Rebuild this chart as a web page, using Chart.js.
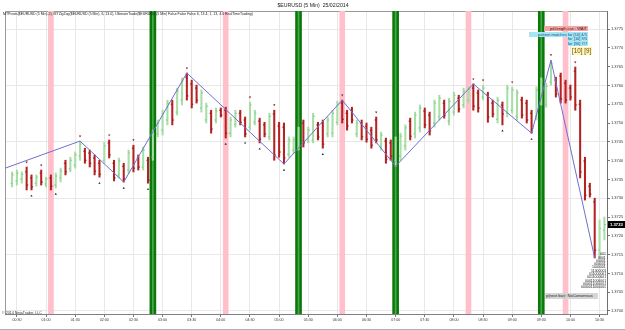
<!DOCTYPE html>
<html>
<head>
<meta charset="utf-8">
<title>$EURUSD (5 Min) 25/02/2014</title>
<script src="https://cdn.jsdelivr.net/npm/chart.js@4.4.1/dist/chart.umd.min.js"></script>
<style>
html,body{margin:0;padding:0;background:#ffffff;overflow:hidden;}
#wrap{position:relative;width:625px;height:330px;overflow:hidden;background:#fff;}
#c{position:absolute;left:0;top:0;}
.ann{position:absolute;line-height:1;white-space:nowrap;transform-origin:0 0;font-family:"Liberation Sans",Arial,sans-serif;}
.box{position:absolute;}
</style>
</head>
<body>
<div id="wrap"><canvas id="c" width="625" height="330"></canvas></div>
<script>
// ---------------- DATA ----------------
const barTimes = [
"00:25","00:30","00:35","00:40","00:45","00:50","00:55","01:00","01:05","01:10",
"01:15","01:20","01:25","01:30","01:35","01:40","01:45","01:50","01:55","02:00",
"02:05","02:10","02:15","02:20","02:25","02:30","02:35","02:40","02:45","02:50",
"02:55","03:00","03:05","03:10","03:15","03:20","03:25","03:30","03:35","03:40",
"03:45","03:50","03:55","04:00","04:05","04:10","04:15","04:20","04:25","04:30",
"04:35","04:40","04:45","04:50","04:55","05:00","05:05","05:10","05:15","05:20",
"05:25","05:30","05:35","05:40","05:45","05:50","05:55","06:00","06:05","06:10",
"06:15","06:20","06:25","06:30","06:35","06:40","06:45","06:50","06:55","07:00",
"07:05","07:10","07:15","07:20","07:25","07:30","07:35","07:40","07:45","07:50",
"07:55","08:00","08:05","08:10","08:15","08:20","08:25","08:30","08:35","08:40",
"08:45","08:50","08:55","09:00","09:05","09:10","09:15","09:20","09:25","09:30",
"09:35","09:40","09:45","09:50","09:55","10:00","10:05","10:10","10:15","10:20",
"10:25","10:30","10:35"];

const opens = [
1.37340,1.37346,1.37351,1.37370,1.37354,1.37340,1.37367,1.37338,1.37354,1.37335,
1.37354,1.37393,1.37378,1.37388,1.37412,1.37425,1.37420,1.37407,1.37393,1.37401,
1.37447,1.37393,1.37362,1.37385,1.37375,1.37433,1.37407,1.37383,1.37401,1.37409,
1.37471,1.37481,1.37508,1.37550,1.37529,1.37561,1.37622,1.37604,1.37593,1.37540,
1.37508,1.37526,1.37508,1.37534,1.37534,1.37473,1.37497,1.37526,1.37508,1.37489,
1.37502,1.37505,1.37495,1.37463,1.37524,1.37492,1.37489,1.37417,1.37428,1.37436,
1.37500,1.37455,1.37455,1.37495,1.37500,1.37471,1.37473,1.37502,1.37553,1.37526,
1.37534,1.37471,1.37500,1.37492,1.37481,1.37508,1.37436,1.37452,1.37447,1.37401,
1.37412,1.37439,1.37505,1.37471,1.37487,1.37532,1.37521,1.37500,1.37516,1.37553,
1.37505,1.37529,1.37566,1.37548,1.37561,1.37593,1.37580,1.37569,1.37574,1.37553,
1.37510,1.37548,1.37526,1.37534,1.37518,1.37561,1.37553,1.37526,1.37518,1.37556,
1.37550,1.37609,1.37614,1.37625,1.37606,1.37593,1.37638,1.37550,1.37399,1.37332,
1.37290,1.37162,1.37215];

const highs = [
1.37370,1.37375,1.37370,1.37383,1.37362,1.37362,1.37375,1.37356,1.37362,1.37367,
1.37380,1.37401,1.37409,1.37423,1.37452,1.37433,1.37428,1.37415,1.37401,1.37449,
1.37455,1.37401,1.37407,1.37393,1.37428,1.37441,1.37415,1.37436,1.37409,1.37481,
1.37508,1.37534,1.37561,1.37561,1.37593,1.37620,1.37633,1.37614,1.37601,1.37588,
1.37553,1.37534,1.37540,1.37540,1.37542,1.37516,1.37534,1.37534,1.37516,1.37556,
1.37534,1.37513,1.37502,1.37526,1.37534,1.37502,1.37500,1.37463,1.37463,1.37489,
1.37508,1.37489,1.37526,1.37502,1.37508,1.37516,1.37534,1.37558,1.37561,1.37534,
1.37542,1.37508,1.37508,1.37500,1.37489,1.37516,1.37476,1.37460,1.37455,1.37463,
1.37473,1.37495,1.37513,1.37529,1.37548,1.37540,1.37529,1.37561,1.37574,1.37561,
1.37566,1.37582,1.37574,1.37593,1.37598,1.37604,1.37588,1.37601,1.37582,1.37561,
1.37569,1.37556,1.37601,1.37596,1.37588,1.37569,1.37561,1.37534,1.37596,1.37620,
1.37606,1.37667,1.37622,1.37633,1.37614,1.37601,1.37649,1.37561,1.37409,1.37340,
1.37300,1.37242,1.37250];

const lows = [
1.37330,1.37335,1.37340,1.37322,1.37322,1.37332,1.37335,1.37330,1.37322,1.37327,
1.37343,1.37362,1.37370,1.37380,1.37401,1.37393,1.37383,1.37362,1.37356,1.37393,
1.37407,1.37346,1.37354,1.37343,1.37367,1.37370,1.37375,1.37375,1.37340,1.37401,
1.37463,1.37468,1.37495,1.37495,1.37521,1.37548,1.37561,1.37540,1.37553,1.37529,
1.37500,1.37473,1.37500,1.37516,1.37460,1.37463,1.37489,1.37495,1.37463,1.37481,
1.37495,1.37447,1.37463,1.37455,1.37401,1.37409,1.37391,1.37409,1.37420,1.37428,
1.37436,1.37447,1.37447,1.37455,1.37433,1.37463,1.37463,1.37495,1.37500,1.37481,
1.37500,1.37463,1.37455,1.37449,1.37433,1.37447,1.37428,1.37393,1.37401,1.37385,
1.37401,1.37428,1.37455,1.37460,1.37476,1.37487,1.37468,1.37489,1.37508,1.37513,
1.37495,1.37521,1.37529,1.37540,1.37553,1.37534,1.37529,1.37561,1.37502,1.37516,
1.37500,1.37495,1.37516,1.37526,1.37508,1.37513,1.37500,1.37473,1.37508,1.37548,
1.37542,1.37601,1.37569,1.37553,1.37553,1.37561,1.37534,1.37354,1.37295,1.37303,
1.37141,1.37141,1.37189];

const closes = [
1.37362,1.37367,1.37364,1.37335,1.37330,1.37356,1.37343,1.37351,1.37332,1.37359,
1.37372,1.37370,1.37401,1.37415,1.37444,1.37401,1.37393,1.37372,1.37364,1.37439,
1.37415,1.37354,1.37399,1.37351,1.37420,1.37380,1.37383,1.37428,1.37348,1.37471,
1.37500,1.37526,1.37553,1.37508,1.37585,1.37612,1.37572,1.37550,1.37561,1.37580,
1.37545,1.37484,1.37532,1.37521,1.37473,1.37508,1.37526,1.37502,1.37471,1.37548,
1.37526,1.37457,1.37471,1.37518,1.37415,1.37423,1.37407,1.37455,1.37455,1.37481,
1.37447,1.37481,1.37518,1.37463,1.37444,1.37508,1.37526,1.37550,1.37510,1.37492,
1.37508,1.37500,1.37463,1.37457,1.37441,1.37455,1.37468,1.37404,1.37412,1.37455,
1.37465,1.37487,1.37465,1.37521,1.37540,1.37495,1.37479,1.37553,1.37566,1.37521,
1.37558,1.37574,1.37537,1.37585,1.37590,1.37545,1.37540,1.37593,1.37516,1.37524,
1.37561,1.37524,1.37593,1.37588,1.37580,1.37521,1.37508,1.37484,1.37588,1.37612,
1.37598,1.37659,1.37577,1.37564,1.37561,1.37569,1.37548,1.37370,1.37308,1.37311,
1.37162,1.37220,1.37230];

const zigzagTimes  = ["00:18","01:35","02:20","03:25","05:05","06:05","07:00","08:20","09:20","09:40","10:25"];
const zigzagPrices = [1.37380,1.37452,1.37343,1.37633,1.37391,1.37561,1.37385,1.37604,1.37473,1.37667,1.37141];

const upMarkTimes  = ["00:40","00:55","01:35","02:05","02:30","03:25","04:30","04:55","06:05","06:40","08:20","08:30","09:00","09:40","10:05"];
const upMarkPrices = [1.37396,1.37388,1.37465,1.37468,1.37455,1.37646,1.37569,1.37548,1.37574,1.37529,1.37617,1.37614,1.37609,1.37681,1.37662];
const downMarkTimes  = ["00:45","01:10","01:55","02:20","02:45","04:05","04:25","04:40","05:05","05:45","08:50","09:20"];
const downMarkPrices = [1.37306,1.37311,1.37340,1.37327,1.37324,1.37444,1.37447,1.37431,1.37375,1.37417,1.37479,1.37457];

const pinkBandTimes  = ["01:05","04:05","06:05","08:15","09:55"];
const greenBandTimes = ["02:50","05:20","07:00","09:30"];

const xTickLabels = ["00:30","01:00","01:30","02:00","02:30","03:00","03:30","04:00","04:30","05:00",
"05:30","06:00","06:30","07:00","07:30","08:00","08:30","09:00","09:30","10:00","10:30"];
const yTickLabels = ["1.3700","1.3705","1.3710","1.3715","1.3720","1.3725","1.3730","1.3735",
"1.3740","1.3745","1.3750","1.3755","1.3760","1.3765","1.3770","1.3775"];

const binaryLines = ["001","0001","00001","000001","1000001","11000001","011000001",
"0011000001","00011000001","000011000001","0000011000001"];

// ---------------- SETUP ----------------
const X_MIN = 17.72, X_MAX = 637.67;
const Y_MIN = 1.36992, Y_MAX = 1.37798;
const toMin = s => { const p = s.split(':').map(Number); return p[0] * 60 + p[1]; };
const T = barTimes.map(toMin);
const xTickVals = xTickLabels.map(toMin);
const yTickVals = yTickLabels.map(Number);
const isUp = i => closes[i] >= opens[i];
const RED = '#b52222', RED_D = '#8a1515', GRN = '#a6dea6', GRN_D = '#82c882';
const FONT = '"Liberation Sans", Arial, sans-serif';
Chart.defaults.font.family = FONT;

const frame = {
  id: 'frame',
  beforeDatasetsDraw(chart) {
    const {ctx, chartArea: a} = chart;
    ctx.save();
    ctx.strokeStyle = '#9a9a9a'; ctx.lineWidth = 1;
    ctx.beginPath();
    ctx.moveTo(a.left + 0.5, a.bottom); ctx.lineTo(a.left + 0.5, a.top + 0.5); ctx.lineTo(a.right, a.top + 0.5);
    ctx.stroke();
    ctx.restore();
  }
};
const priceTag = {
  id: 'priceTag',
  afterDraw(chart) {
    const {ctx, chartArea: a, scales: {y}} = chart;
    const v = closes[closes.length - 1];
    const py = y.getPixelForValue(v);
    ctx.save();
    ctx.fillStyle = '#000';
    ctx.fillRect(a.right + 1, py - 3.5, 17, 7);
    ctx.fillStyle = '#fff';
    ctx.font = 'bold 4.2px ' + FONT;
    ctx.textBaseline = 'middle';
    ctx.fillText(v.toFixed(4), a.right + 3, py + 0.3);
    ctx.restore();
  }
};

const bandData = arr => arr.map(toMin).map(t => ({x: t, y: [Y_MIN, Y_MAX]}));

new Chart(document.getElementById('c'), {
  type: 'scatter',
  data: {
    datasets: [
      { type: 'line', label: 'MTZigZag', order: 1,
        data: zigzagTimes.map((t, i) => ({x: toMin(t), y: zigzagPrices[i]})),
        borderColor: '#6f6fcf', borderWidth: 1, pointRadius: 0, tension: 0, fill: false },
      { type: 'scatter', label: 'swing high', order: 2,
        data: upMarkTimes.map((t, i) => ({x: toMin(t), y: upMarkPrices[i]})),
        pointStyle: 'triangle', rotation: 180, pointRadius: 1.3, backgroundColor: '#8b1515', borderColor: '#8b1515', borderWidth: 0 },
      { type: 'scatter', label: 'swing low', order: 2,
        data: downMarkTimes.map((t, i) => ({x: toMin(t), y: downMarkPrices[i]})),
        pointStyle: 'triangle', pointRadius: 1.3, backgroundColor: '#202020', borderColor: '#202020', borderWidth: 0 },
      { type: 'scatter', label: 'open', order: 3,
        data: T.map((t, i) => ({x: t - 0.8, y: opens[i]})),
        pointStyle: 'line', pointRadius: 0.8, borderWidth: 1,
        borderColor: T.map((t, i) => isUp(i) ? GRN_D : RED_D) },
      { type: 'scatter', label: 'close', order: 3,
        data: T.map((t, i) => ({x: t + 0.8, y: closes[i]})),
        pointStyle: 'line', pointRadius: 0.8, borderWidth: 1,
        borderColor: T.map((t, i) => isUp(i) ? GRN_D : RED_D) },
      { type: 'bar', label: 'range', order: 4, grouped: false,
        data: T.map((t, i) => ({x: t, y: [lows[i], highs[i]]})),
        backgroundColor: T.map((t, i) => isUp(i) ? GRN : RED),
        barThickness: 1.4, maxBarThickness: 1.4, borderWidth: 0 },
      { type: 'bar', label: 'green stripe', xAxisID: 'xb', order: 8, grouped: false,
        data: bandData(greenBandTimes), backgroundColor: '#4aa84a',
        barThickness: 1, maxBarThickness: 1, borderWidth: 0 },
      { type: 'bar', label: 'green band', xAxisID: 'xb', order: 9, grouped: false,
        data: bandData(greenBandTimes), backgroundColor: '#0a780a',
        barThickness: 6, maxBarThickness: 6, borderWidth: 0 },
      { type: 'bar', label: 'pink band', xAxisID: 'xb', order: 10, grouped: false,
        data: bandData(pinkBandTimes), backgroundColor: '#ffc0cb',
        barThickness: 5, maxBarThickness: 5, borderWidth: 0 }
    ]
  },
  options: {
    responsive: false, animation: false, devicePixelRatio: 1, events: [],
    layout: {padding: {left: 1, right: 0, top: 0, bottom: 0}},
    plugins: {
      legend: {display: false}, tooltip: {enabled: false},
      title: {display: true, text: '$EURUSD (5 Min)  25/02/2014', color: '#222',
        font: {family: FONT, size: 5.2, weight: 'normal'}, padding: {top: 2, bottom: 2.76}}
    },
    scales: {
      x: { type: 'linear', position: 'bottom', min: X_MIN, max: X_MAX, offset: false,
        grid: {color: '#e8e8e8', lineWidth: 1, offset: false, drawTicks: true, tickLength: 3, tickColor: '#777'},
        border: {color: '#808080', width: 1},
        ticks: {font: {family: FONT, size: 3.6}, color: '#333', maxRotation: 0, minRotation: 0, autoSkip: false, padding: 0.5,
          callback: v => { const k = xTickVals.indexOf(v); return k >= 0 ? xTickLabels[k] : ''; }},
        afterBuildTicks: s => { s.ticks = xTickVals.map(v => ({value: v})); },
        afterFit: s => { s.height = 16; } },
      xb: { type: 'linear', display: false, min: X_MIN, max: X_MAX, offset: false },
      y: { type: 'linear', position: 'right', min: Y_MIN, max: Y_MAX,
        grid: {color: c => (c.index % 3 === 0 ? '#e8e8e8' : 'rgba(0,0,0,0)'), drawTicks: true, tickLength: 3, tickColor: '#777'},
        border: {color: '#707070', width: 1},
        ticks: {font: {family: FONT, size: 4}, color: '#333', padding: 1,
          callback: v => { const k = yTickVals.findIndex(u => Math.abs(u - v) < 1e-9); return k >= 0 ? yTickLabels[k] : ''; }},
        afterBuildTicks: s => { s.ticks = yTickVals.map(v => ({value: v})); },
        afterFit: s => { s.width = 18; } }
    }
  },
  plugins: [frame, priceTag]
});

// ---------------- ANNOTATION TEXTS ----------------
const wrap = document.getElementById('wrap');
function box(x0, y0, x1, y1, color) {
  const d = document.createElement('div');
  d.className = 'box';
  d.style.left = x0 + 'px'; d.style.top = y0 + 'px';
  d.style.width = (x1 - x0) + 'px'; d.style.height = (y1 - y0) + 'px';
  d.style.background = color;
  wrap.appendChild(d);
}
function text(txt, o) {
  const el = document.createElement('div');
  el.className = 'ann';
  el.textContent = txt;
  el.style.fontSize = '20px';
  el.style.color = o.color || '#222';
  wrap.appendChild(el);
  const w = el.offsetWidth;
  const s = o.w ? o.w / w : o.size / 20;
  const left = o.align === 'right' ? o.x - w * s : o.x;
  el.style.left = left + 'px';
  el.style.top = (o.cy - 10 * s) + 'px';
  el.style.transform = 'scale(' + s + ')';
}

text('MTPivots($EURUSD (5 Min),2), MTZigZag($EURUSD (5 Min), 6, 13.0), UltimateTrade($EURUSD (5 Min) False False False 6, 13.4, 1, 13, 4.0 RealTimeTrading)',
  {x: 3, cy: 13.5, w: 250, color: '#222'});
text('\u00a9 2014 NinjaTrader, LLC', {x: 2, cy: 312.3, size: 3.6, color: '#333'});

box(544, 26, 588, 31, '#f3a5a5');
text('pd.length cas : WAIT', {x: 587, cy: 28.6, size: 4, align: 'right', color: '#4a1010'});
box(529, 32, 588, 37, '#a6e6f0');
box(568, 37, 588, 46, '#a6e6f0');
text('pattern matches for [10] 4/5', {x: 587, cy: 34.6, size: 4, align: 'right', color: '#1d4f9a'});
text('for [10] 9/5', {x: 587, cy: 39.2, size: 4, align: 'right', color: '#1d4f9a'});
text('for [90] 7/7', {x: 587, cy: 43.6, size: 4, align: 'right', color: '#1d4f9a'});
box(572, 47, 592, 55, '#fff5b5');
text('[10] [9]', {x: 591, cy: 51, size: 6.3, align: 'right', color: '#6a4a10'});

box(545, 293, 598, 299, '#d6d6d6');
text('p(next bar): NoConsensus', {x: 546, cy: 296.2, size: 4, color: '#222'});

binaryLines.forEach((s, k) => text(s, {x: 606, cy: 254 + k * 3.3, size: 3.5, align: 'right', color: '#222'}));

box(0, 329, 625, 330, '#b0b0b0');
</script>
</body>
</html>
